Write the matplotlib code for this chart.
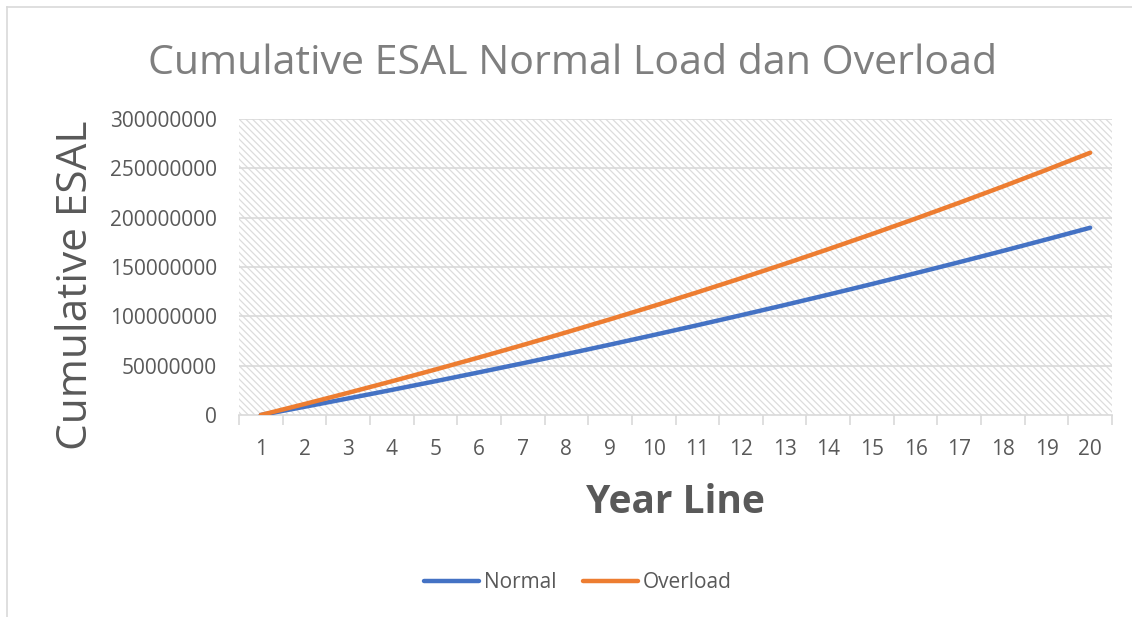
import matplotlib
matplotlib.use("Agg")
import matplotlib.pyplot as plt
from matplotlib.ticker import FuncFormatter, FixedLocator
from matplotlib.lines import Line2D

# data
years = list(range(1, 21))
normal = [0, 8310000, 16790000, 25430000, 34250000, 43250000, 52420000,
          61780000, 71320000, 81060000, 90990000, 101120000, 111450000,
          121990000, 132740000, 143710000, 154890000, 166300000, 177940000,
          189810000]
overload = [0, 11100000, 22480000, 34140000, 46090000, 58350000, 70900000,
            83780000, 96970000, 110500000, 124360000, 138570000, 153130000,
            168060000, 183360000, 199040000, 215120000, 231600000, 248490000,
            265800000]
y_ticks = [0, 50000000, 100000000, 150000000, 200000000, 250000000, 300000000]

W, H = 1132, 617
plt.rcParams["font.family"] = ["Open Sans", "DejaVu Sans"]
plt.rcParams["hatch.linewidth"] = 0.9
plt.rcParams["hatch.color"] = "#dcdcdc"

fig = plt.figure(figsize=(W / 100, H / 100), dpi=100)
ax = fig.add_axes([239 / W, 1 - 415 / H, (1112 - 239) / W, (415 - 119) / H])

# hatched plot area
ax.patch.set_facecolor("white")
ax.patch.set_hatch("\\\\\\\\\\")
ax.patch.set_edgecolor("#dcdcdc")

for yt in y_ticks[1:]:
    ax.axhline(yt, color="#d9d9d9", lw=1.2, zorder=1)

ax.plot(years, normal, color="#4472C4", lw=3.2, solid_capstyle="round",
        label="Normal", zorder=3)
ax.plot(years, overload, color="#ED7D31", lw=3.2, solid_capstyle="round",
        label="Overload", zorder=3)

ax.set_xlim(0.5, 20.5)
ax.set_ylim(0, 300000000)
ax.set_yticks(y_ticks)
ax.yaxis.set_major_formatter(FuncFormatter(lambda v, p: f"{v:.0f}"))
ax.set_xticks(years)
ax.xaxis.set_minor_locator(FixedLocator([i + 0.5 for i in range(0, 21)]))

for s in ["top", "right", "left"]:
    ax.spines[s].set_visible(False)
ax.spines["bottom"].set_color("#d9d9d9")
ax.spines["bottom"].set_linewidth(1.2)
ax.spines["bottom"].set_zorder(2)

ax.tick_params(axis="y", length=0, pad=16, labelsize=15, labelcolor="#595959")
ax.tick_params(axis="x", which="major", length=0, pad=17, labelsize=15,
               labelcolor="#595959")
ax.tick_params(axis="x", which="minor", length=7, width=1.2, color="#d9d9d9",
               direction="out")

# titles
fig.text(573 / W, 1 - 74 / H, "Cumulative ESAL Normal Load dan Overload",
         ha="center", va="baseline", fontsize=29.6, color="#7f7f7f")
fig.text(87 / W, 1 - 285 / H, "Cumulative ESAL", rotation=90,
         rotation_mode="anchor", ha="center", va="baseline", fontsize=30.5,
         color="#595959")
fig.text(675 / W, 1 - 513 / H, "Year Line", ha="center", va="baseline",
         fontsize=28, fontweight="bold", color="#595959")

# legend
leg = fig.legend(loc="center", bbox_to_anchor=(578 / W, 1 - 583 / H),
                 ncol=2, frameon=False, fontsize=15, handlelength=2.6,
                 handletextpad=0.25, columnspacing=1.3)
for t in leg.get_texts():
    t.set_color("#595959")

# outer chart border (only left and top visible in the crop)
fig.add_artist(Line2D([7 / W, 7 / W], [0, 1 - 7 / H], color="#d9d9d9", lw=1.2))
fig.add_artist(Line2D([7 / W, 1], [1 - 7 / H, 1 - 7 / H], color="#d9d9d9", lw=1.2))

fig.savefig("out.png", dpi=100)
